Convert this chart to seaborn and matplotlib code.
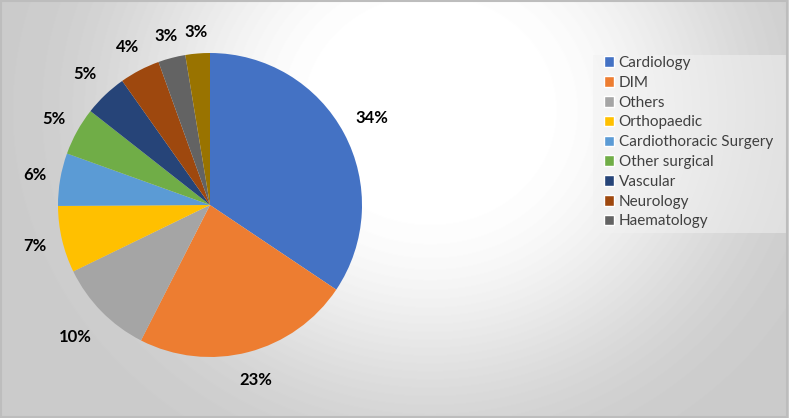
import numpy as np
import seaborn as sns
from matplotlib import pyplot as plt
from matplotlib.patches import Patch, Rectangle

departments = ["Cardiology", "DIM", "Others", "Orthopaedic", "Cardiothoracic Surgery",
               "Other surgical", "Vascular", "Neurology", "Haematology", "Other"]
shares = [34.4, 23.1, 10.3, 7.1, 5.6, 5.1, 4.6, 4.3, 2.9, 2.6]
colors = ["#4472C4", "#ED7D31", "#A5A5A5", "#FFC000", "#5B9BD5",
          "#70AD47", "#264478", "#9E480E", "#636363", "#997300"]
legend_count = 9

# how far out each percentage label sits (in pie radii), excel "best fit" look
label_dist = [1.21, 1.19, 1.24, 1.18, 1.17, 1.17, 1.19, 1.17, 1.15, 1.14]


def main():
    sns.set_theme(style="white")
    plt.rcParams["font.family"] = ["Lato", "DejaVu Sans"]

    W, H = 789, 418
    fig = plt.figure(figsize=(W / 100, H / 100), dpi=100)

    # radial grey background like the office chart area
    bg = fig.add_axes([0, 0, 1, 1])
    yy, xx = np.mgrid[0:H, 0:W]
    d = np.hypot((xx - 430) / 1.1, yy - 110)
    t = np.clip((d - 90) / 300, 0, 1)
    v = 1 - 0.2 * t * t * (3 - 2 * t)
    bg.imshow(v, cmap="gray", vmin=0, vmax=1, extent=[0, 1, 0, 1], aspect="auto")
    bg.axis("off")

    cx, cy, r = 210, 205, 152
    ax = fig.add_axes([(cx - r) / W, 1 - (cy + r) / H, 2 * r / W, 2 * r / H])
    pal = sns.color_palette(colors)
    wedges, _, autotexts = ax.pie(shares, colors=pal, startangle=90, counterclock=False,
                                  autopct="%1.0f%%", pctdistance=1.17, radius=1,
                                  wedgeprops=dict(linewidth=0, edgecolor="none"),
                                  textprops=dict(fontsize=12, fontweight="bold", color="black"))
    for w, txt, dist in zip(wedges, autotexts, label_dist):
        ang = np.deg2rad((w.theta1 + w.theta2) / 2)
        txt.set_position((dist * np.cos(ang), dist * np.sin(ang)))
    ax.set_xlim(-1, 1)
    ax.set_ylim(-1, 1)
    ax.axis("off")

    # legend area box
    fig.add_artist(Rectangle((593 / W, 1 - 233 / H), 195 / W, 178 / H, transform=fig.transFigure,
                             facecolor="#f2f2f2", alpha=0.5, edgecolor="none"))

    handles = [Patch(facecolor=pal[i], label=departments[i]) for i in range(legend_count)]
    fig.legend(handles=handles, loc="upper left", bbox_to_anchor=(604 / W, 1 - 56 / H),
               frameon=False, fontsize=11, handlelength=0.65, handleheight=0.7,
               handletextpad=0.3, labelspacing=0.38, borderpad=0, borderaxespad=0,
               labelcolor="#404040")

    fig.add_artist(Rectangle((0.001, 0.002), 0.997, 0.995, transform=fig.transFigure,
                             fill=False, edgecolor="#bdbdbd", linewidth=1.5))

    plt.savefig("out.png", dpi=100)
    plt.close()


if __name__ == '__main__':
    main()
